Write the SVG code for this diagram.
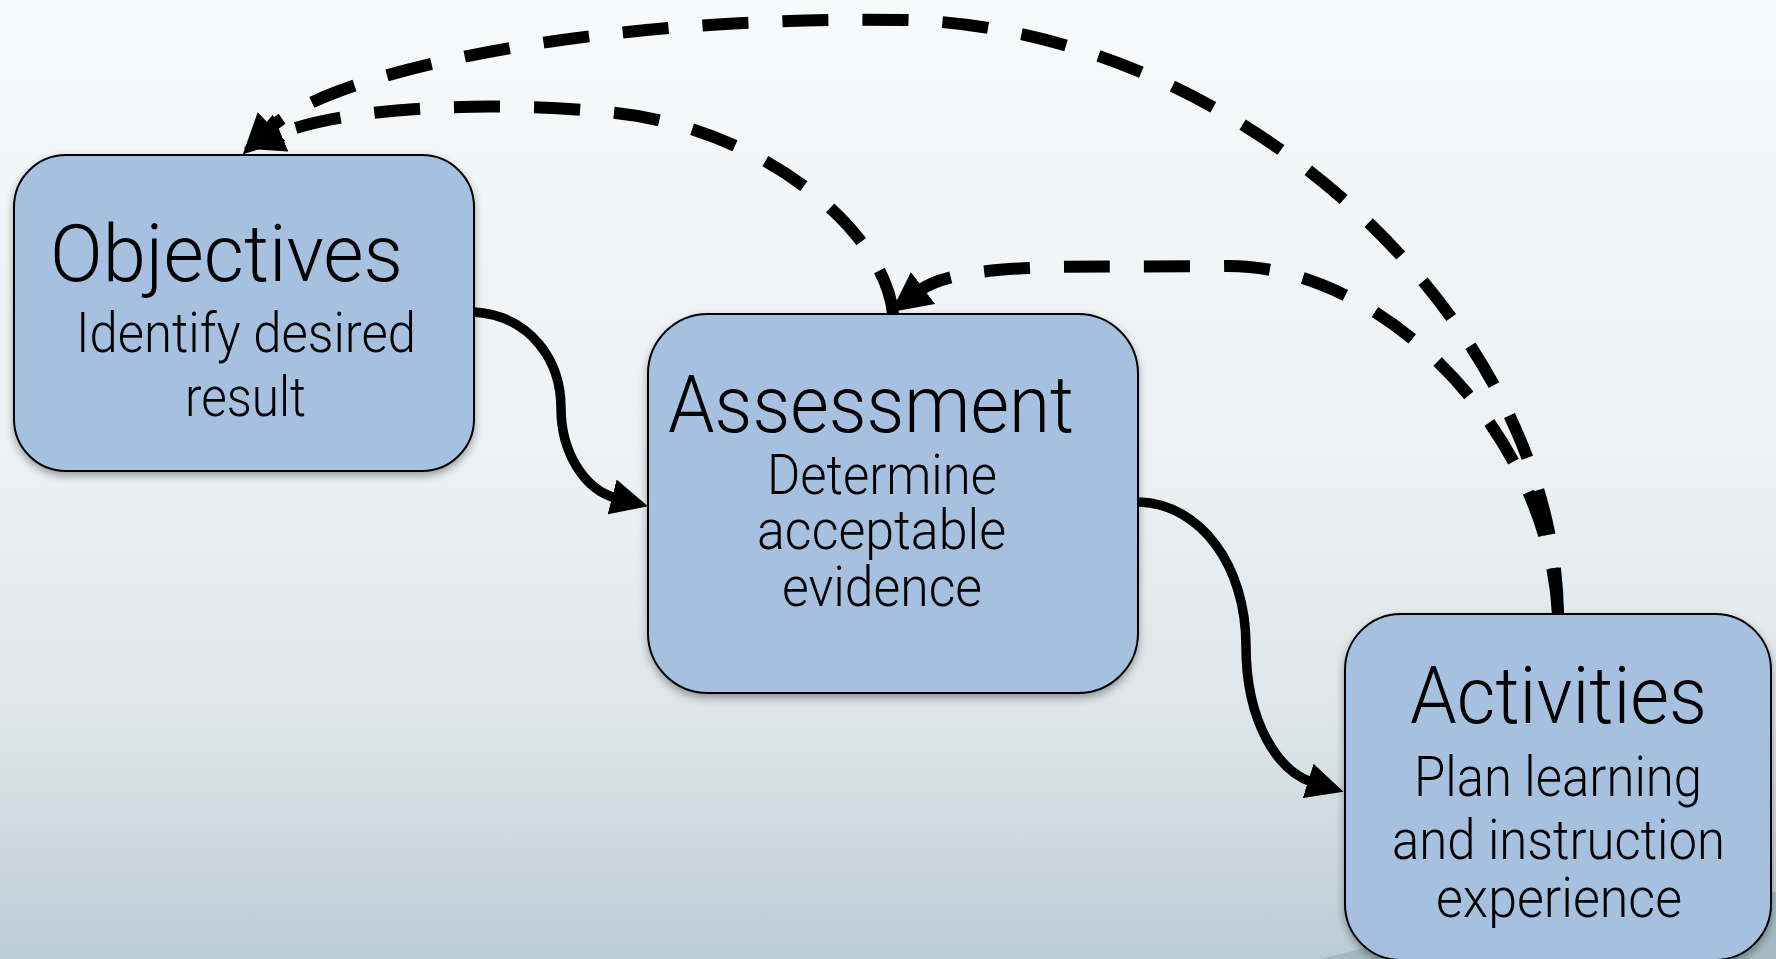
<svg xmlns="http://www.w3.org/2000/svg" width="1776" height="959" viewBox="0 0 1776 959">
  <defs>
    <linearGradient id="bg" x1="0" y1="0" x2="0" y2="1">
      <stop offset="0" stop-color="#f7f9fa"/>
      <stop offset="0.45" stop-color="#eef2f4"/>
      <stop offset="0.75" stop-color="#dde5e9"/>
      <stop offset="1" stop-color="#bccdd4"/>
    </linearGradient>
    <filter id="shadow" x="-10%" y="-10%" width="120%" height="125%">
      <feDropShadow dx="0" dy="4" stdDeviation="4" flood-color="#000" flood-opacity="0.35"/>
    </filter>
    <marker id="arrowDash" markerUnits="userSpaceOnUse" viewBox="0 0 44 44" markerWidth="44" markerHeight="44" refX="5" refY="22" orient="auto">
      <path d="M0,2 L40,22 L0,42 z" fill="#000"/>
    </marker>
    <marker id="arrowSolid" markerUnits="userSpaceOnUse" viewBox="0 0 38 38" markerWidth="38" markerHeight="38" refX="4" refY="19" orient="auto">
      <path d="M0,1 L37,19 L0,37 z" fill="#000"/>
    </marker>
    <style>
      .box { fill: #a6c1e0; stroke: #000; stroke-width: 2; filter: url(#shadow); }
      .title { font-family: "Roboto", "Liberation Sans", sans-serif; font-weight: 300; font-size: 80px; fill: #000; }
      .sub { font-family: "Roboto", "Liberation Sans", sans-serif; font-weight: 300; font-size: 56px; fill: #000; }
      .solid { fill: none; stroke: #000; stroke-width: 9.5; marker-end: url(#arrowSolid); }
      .dash { fill: none; stroke: #000; stroke-width: 12; stroke-dasharray: 46 34; marker-end: url(#arrowDash); }
    </style>
  </defs>

  <rect x="0" y="0" width="1776" height="959" fill="url(#bg)"/>
  <polygon points="1320,959 1380,944 1776,892 1776,959" fill="#a3bac3"/>

  <g id="node-objectives">
    <rect class="box" x="14" y="155" width="460" height="316" rx="52" ry="52"/>
    <text class="title" x="50" y="281" textLength="353" lengthAdjust="spacingAndGlyphs">Objectives</text>
    <text class="sub" x="76" y="352" textLength="340" lengthAdjust="spacingAndGlyphs">Identify desired</text>
    <text class="sub" x="185" y="416" textLength="121" lengthAdjust="spacingAndGlyphs">result</text>
  </g>

  <g id="node-assessment">
    <rect class="box" x="648" y="314" width="490" height="379" rx="60" ry="60"/>
    <text class="title" x="668" y="432" textLength="406" lengthAdjust="spacingAndGlyphs">Assessment</text>
    <text class="sub" x="767" y="494" textLength="230" lengthAdjust="spacingAndGlyphs">Determine</text>
    <text class="sub" x="757" y="549" textLength="249" lengthAdjust="spacingAndGlyphs">acceptable</text>
    <text class="sub" x="782" y="606" textLength="200" lengthAdjust="spacingAndGlyphs">evidence</text>
  </g>

  <g id="node-activities">
    <rect class="box" x="1345" y="614" width="426" height="346" rx="56" ry="56"/>
    <text class="title" x="1410" y="723" textLength="297" lengthAdjust="spacingAndGlyphs">Activities</text>
    <text class="sub" x="1414" y="796" textLength="288" lengthAdjust="spacingAndGlyphs">Plan learning</text>
    <text class="sub" x="1392" y="859" textLength="333" lengthAdjust="spacingAndGlyphs">and instruction</text>
    <text class="sub" x="1436" y="917" textLength="246" lengthAdjust="spacingAndGlyphs">experience</text>
  </g>

  <g id="connectors">
    <path class="solid" d="M474,312 C532,316 561,362 561,408 C561,453 585,490 616,498"/>
    <path class="solid" d="M1139,502 C1201,504 1246,566 1246,646 C1246,725 1280,772 1312,782"/>
    <path class="dash" d="M1558,614 C1555,330 1250,30 906,20 C600,15 330,70 268,130"/>
    <path class="dash" d="M1558,614 C1548,430 1380,262 1223,266 C1090,268 960,260 919,291"/>
    <path class="dash" d="M893,314 C885,230 760,125 606,112 C480,100 340,108 276,135"/>
  </g>
</svg>
